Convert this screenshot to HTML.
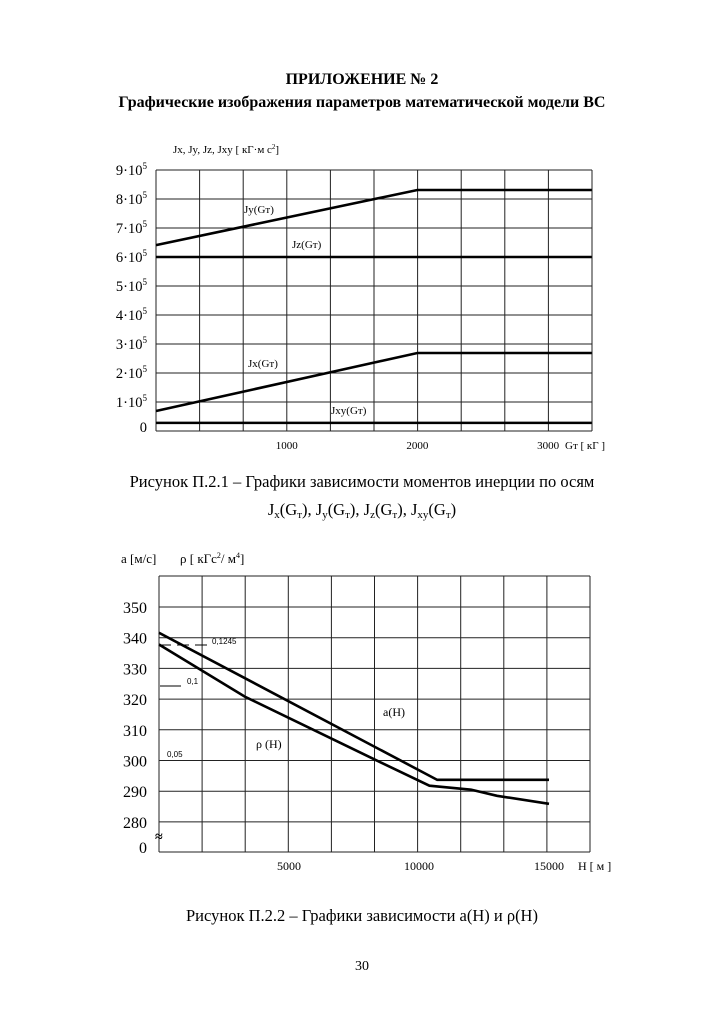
<!DOCTYPE html>
<html><head><meta charset="utf-8"><style>
body{margin:0;background:#fff;width:724px;height:1024px;overflow:hidden;font-family:"Liberation Serif","Noto Serif CJK SC",serif;}
svg{position:absolute;left:0;top:0}
</style></head><body>
<svg width="724" height="1024">
<text x="362" y="84" text-anchor="middle" font-weight="bold" font-size="16">ПРИЛОЖЕНИЕ № 2</text>
<text x="362" y="107" text-anchor="middle" font-weight="bold" font-size="16">Графические изображения параметров математической модели ВС</text>
<g id="c1"></g>
<text x="362" y="487" text-anchor="middle" font-size="16.5">Рисунок П.2.1 – Графики зависимости моментов инерции по осям</text>
<text x="362" y="515" text-anchor="middle" font-size="16.5">J<tspan font-size="11" dy="3">x</tspan><tspan dy="-3">(G</tspan><tspan font-size="11" dy="3">т</tspan><tspan dy="-3">), J</tspan><tspan font-size="11" dy="3">y</tspan><tspan dy="-3">(G</tspan><tspan font-size="11" dy="3">т</tspan><tspan dy="-3">), J</tspan><tspan font-size="11" dy="3">z</tspan><tspan dy="-3">(G</tspan><tspan font-size="11" dy="3">т</tspan><tspan dy="-3">), J</tspan><tspan font-size="11" dy="3">xy</tspan><tspan dy="-3">(G</tspan><tspan font-size="11" dy="3">т</tspan><tspan dy="-3">)</tspan></text>
<g id="c2"></g>
<text x="362" y="921" text-anchor="middle" font-size="16.5">Рисунок П.2.2 – Графики зависимости a(H) и ρ(H)</text>
<text x="362" y="970" text-anchor="middle" font-size="14">30</text>
</svg>
<script>
const NS="http://www.w3.org/2000/svg";
function mk(p,t,a){const e=document.createElementNS(NS,t);for(const k in a)e.setAttribute(k,a[k]);p.appendChild(e);return e;}
// ---- Chart 1 data ----
const c1XTicks=[1000,2000,3000];
const c1YTicks=[0,1,2,3,4,5,6,7,8,9];
const c1G=[0,2000,3333];
const c1Jy=[6.41,8.31,8.31];
const c1Jz=[6.0,6.0,6.0];
const c1Jx=[0.69,2.69,2.69];
const c1Jxy=[0.28,0.28,0.28];
// ---- Chart 2 data ----
const c2XTicks=[5000,10000,15000];
const c2YTicks=[280,290,300,310,320,330,340,350];
const c2aH=[0,10700,15000];
const c2aV=[341.6,293.7,293.7];
const c2rH=[0,3300,8300,10400,12000,13000,15000];
const c2rV=[337.8,320.8,300.3,291.8,290.5,288.5,285.9];

(function(){
const g=document.getElementById('c1');
const L=156,R=592,T=170,B=431;
const x=v=>L+v*0.1307, y=v=>B-v*29;
const cw=(R-L)/10;
for(let i=0;i<=10;i++){const l=mk(g,'line',{x1:L+i*cw,x2:L+i*cw,y1:T,y2:B,stroke:'#222','stroke-width':1});
}
c1YTicks.forEach((v,i)=>{const l=mk(g,'line',{x1:L,x2:R,y1:y(v),y2:y(v),stroke:'#222','stroke-width':1});

const t=mk(g,'text',{x:L-9,y:(v===0?y(0)-4:y(v))+5,'text-anchor':'end','font-size':14.5});

if(v===0)t.textContent='0';else{t.textContent=v+'·10';const s=mk(t,'tspan',{dy:-6,'font-size':9});s.textContent='5';}});
c1XTicks.forEach(v=>{const t=mk(g,'text',{x:x(v),y:B+18,'text-anchor':'middle','font-size':11});t.textContent=v;
});
const xt=mk(g,'text',{x:565,y:B+18,'font-size':11});xt.textContent='Gт [ кГ ]';

const yt=mk(g,'text',{x:173,y:153,'font-size':11});yt.textContent='Jx, Jy, Jz, Jxy [ кГ·м с';
const ys=mk(yt,'tspan',{dy:-4,'font-size':7});ys.textContent='2';const ye=mk(yt,'tspan',{dy:4});ye.textContent=']';

[[c1Jy,'line-jy'],[c1Jz,'line-jz'],[c1Jx,'line-jx'],[c1Jxy,'line-jxy']].forEach(([s,n])=>{
const p=mk(g,'polyline',{points:c1G.map((v,i)=>x(v)+','+y(s[i])).join(' '),fill:'none',stroke:'#000','stroke-width':2.6});
});
[['Jy(Gт)',244,213],['Jz(Gт)',292,248],['Jx(Gт)',248,367],['Jxy(Gт)',331,414]].forEach(([s,a,b])=>{
const t=mk(g,'text',{x:a,y:b,'font-size':11});t.textContent=s;});
})();

(function(){
const g=document.getElementById('c2');
const L=159,R=590,T=576,B=852;
const x=v=>L+v*0.026, y=v=>607+(350-v)*3.07;
const cw=(R-L)/10;
for(let i=0;i<=10;i++){const l=mk(g,'line',{x1:L+i*cw,x2:L+i*cw,y1:T,y2:B,stroke:'#222','stroke-width':1});
}
[T,B].forEach(v=>{const l=mk(g,'line',{x1:L,x2:R,y1:v,y2:v,stroke:'#222','stroke-width':1});});
c2YTicks.forEach(v=>{const l=mk(g,'line',{x1:L,x2:R,y1:y(v),y2:y(v),stroke:'#222','stroke-width':1});

const t=mk(g,'text',{x:147,y:y(v)+6,'text-anchor':'end','font-size':16});t.textContent=v;
});
const z=mk(g,'text',{x:147,y:853,'text-anchor':'end','font-size':16});z.textContent='0';

const br=mk(g,'text',{x:155,y:841,'font-size':14,'font-weight':'bold'});br.textContent='≈';

c2XTicks.forEach(v=>{const t=mk(g,'text',{x:x(v),y:870,'text-anchor':'middle','font-size':12});t.textContent=v;
});
const xt=mk(g,'text',{x:578,y:870,'font-size':12});xt.textContent='H [ м ]';

const ya=mk(g,'text',{x:121,y:563,'font-size':13});ya.textContent='a [м/с]';

const yt=mk(g,'text',{x:180,y:563,'font-size':13});yt.textContent='ρ [ кГс';
const s1=mk(yt,'tspan',{dy:-5,'font-size':8});s1.textContent='2';const s2=mk(yt,'tspan',{dy:5});s2.textContent='/ м';
const s3=mk(yt,'tspan',{dy:-5,'font-size':8});s3.textContent='4';const s4=mk(yt,'tspan',{dy:5});s4.textContent=']';

const pa=mk(g,'polyline',{points:c2aH.map((v,i)=>x(v)+','+y(c2aV[i])).join(' '),fill:'none',stroke:'#000','stroke-width':2.6});

const pr=mk(g,'polyline',{points:c2rH.map((v,i)=>x(v)+','+y(c2rV[i])).join(' '),fill:'none',stroke:'#000','stroke-width':2.6});

[[159,645,212,645,'12,6'],[160,686,181,686,'none']].forEach(([a,b,c,d,da])=>{const l=mk(g,'line',{x1:a,y1:b,x2:c,y2:d,stroke:'#000','stroke-width':1,'stroke-dasharray':da});
});
[['0,1245',212,644,8],['0,1',187,684,8],['0,05',167,757,8],['a(H)',383,716,12],['ρ (H)',256,748,12]].forEach(([s,a,b,f])=>{
const t=mk(g,'text',{x:a,y:b,'font-size':f,'font-family':f<10?'Liberation Sans, sans-serif':'Liberation Serif, serif'});t.textContent=s;
});
})();
</script>
</body></html>
